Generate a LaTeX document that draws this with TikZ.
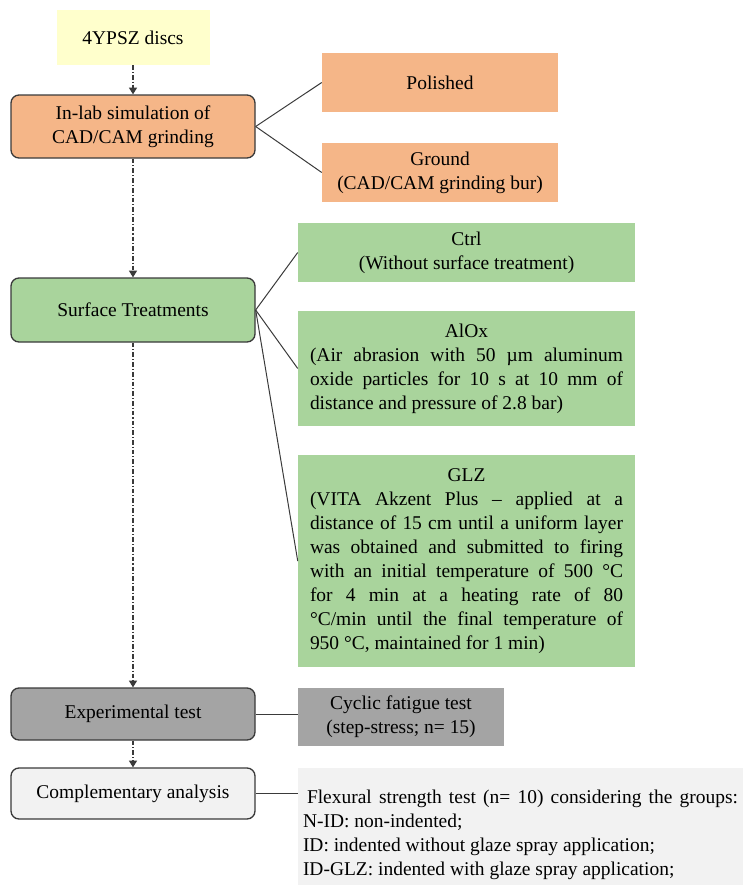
\documentclass[tikz,border=0pt]{standalone}
\usepackage{fontspec}
\setmainfont{Liberation Serif}
\usepackage{tikz}
\usetikzlibrary{shapes,arrows.meta}

\definecolor{discyellow}{HTML}{FFFFCC}
\definecolor{grindorange}{HTML}{F5B688}
\definecolor{treatgreen}{HTML}{A9D49C}
\definecolor{testgray}{HTML}{A4A4A4}
\definecolor{analysisgray}{HTML}{F2F2F2}
\definecolor{edgegray}{HTML}{3A3A3A}

\begin{document}
\begin{tikzpicture}[x=0.75pt,y=-0.75pt,
  font=\fontsize{14.6}{18}\selectfont,
  stage/.style={draw=edgegray, line width=1pt, rounded corners=6pt, minimum width=183pt, align=center, inner sep=0pt},
  option/.style={inner sep=0pt, align=center},
  treatbox/.style={fill=treatgreen, minimum width=252.75pt, inner xsep=9pt, inner ysep=0pt, text width=234.75pt, align=justify},
  link/.style={draw=edgegray, line width=0.75pt},
  flow/.style={draw=edgegray, line width=0.9pt, dash pattern=on 3.5pt off 1.5pt on 0.8pt off 1.5pt, -{Triangle[length=5pt,width=6pt]}}]
\useasboundingbox (0,0) rectangle (743,885);

\node[option, fill=discyellow, minimum width=114.75pt, minimum height=41.25pt] (disc) at (133,37.5) {4YPSZ discs};
\node[stage, fill=grindorange, minimum height=47.25pt] (grind) at (133,126.5) {In-lab simulation of\\CAD/CAM grinding};
\node[option, fill=grindorange, minimum width=177pt, minimum height=44.25pt] (polished) at (440,82.5) {Polished};
\node[option, fill=grindorange, minimum width=177pt, minimum height=44.25pt] (ground) at (440,172.5) {Ground\\(CAD/CAM grinding bur)};

\node[stage, fill=treatgreen, minimum height=48pt] (surface) at (133,310) {Surface Treatments};
\node[option, fill=treatgreen, minimum width=252.75pt, minimum height=44.25pt] (ctrl) at (466.5,252.5) {Ctrl\\(Without surface treatment)};
\node[treatbox, minimum height=86.25pt] (alox) at (466.5,368.5) {{\centering AlOx\par}(Air abrasion with 50 µm aluminum\linebreak oxide particles for 10 s at 10 mm of\linebreak distance and pressure of 2.8 bar)};
\node[treatbox, minimum height=159pt] (glz) at (466.5,561) {{\centering GLZ\par}(VITA Akzent Plus – applied at a\linebreak distance of 15 cm until a uniform layer\linebreak was obtained and submitted to firing\linebreak with an initial temperature of 500 °C\linebreak for 4 min at a heating rate of 80\linebreak °C/min until the final temperature of\linebreak 950 °C, maintained for 1 min)};

\node[stage, fill=testgray, minimum height=39pt] (exper) at (133,714) {Experimental test};
\node[option, fill=testgray, minimum width=154.5pt, minimum height=43.5pt] (cyclic) at (401,717) {Cyclic fatigue test\\(step-stress; n= 15)};

\node[stage, fill=analysisgray, minimum height=38.25pt] (comp) at (133,793.5) {Complementary analysis};
\node[fill=analysisgray, minimum width=333.75pt, minimum height=87.75pt, inner xsep=3.75pt, inner ysep=0pt, text width=326.25pt, text height=23pt, align=justify] (flex) at (520.5,826.5) {\hspace*{3pt}Flexural strength test (n= 10) considering the groups:\linebreak N-ID: non-indented;\\ID: indented without glaze spray application;\\ID-GLZ: indented with glaze spray application;};

\draw[link] (grind.east) -- (polished.west);
\draw[link] (grind.east) -- (ground.west);
\draw[link] (surface.east) -- (ctrl.west);
\draw[link] (surface.east) -- (alox.west);
\draw[link] (surface.east) -- (glz.west);
\draw[link] (exper.east) -- (exper.east -| cyclic.west);
\draw[link] (comp.east) -- (comp.east -| flex.west);

\draw[flow] (disc) -- (grind);
\draw[flow] (grind) -- (surface);
\draw[flow] (surface) -- (exper);
\draw[flow] (exper) -- (comp);
\end{tikzpicture}
\end{document}
